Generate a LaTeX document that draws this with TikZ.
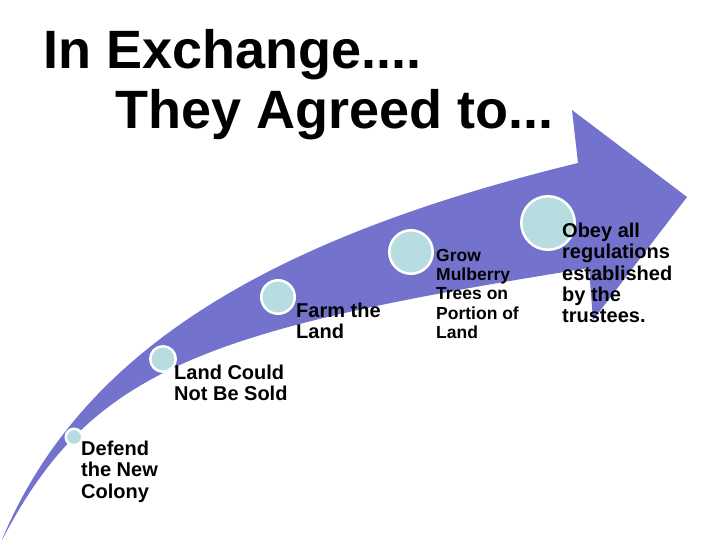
\documentclass[tikz,border=0pt]{standalone}
\usepackage{fontspec}
\setmainfont{Liberation Sans}
\definecolor{arrowblue}{RGB}{115,115,205}
\definecolor{dotfill}{RGB}{183,221,224}
\tikzset{dot/.style={circle,fill=dotfill,draw=white,line width=2.5pt,inner sep=0pt},
  lbl/.style={anchor=north west,inner sep=0pt,align=left,font=\bfseries\fontsize{20}{21.3}\selectfont},
  ttl/.style={anchor=base west,inner sep=0pt,font=\bfseries\fontsize{54}{60}\selectfont}}
\begin{document}
\begin{tikzpicture}[x=1pt,y=-1pt]
\useasboundingbox (0,0) rectangle (720,540);
\node[ttl] (title1) at (43,69) {In Exchange....};
\node[ttl] (title2) at (115,129) {They Agreed to...};
\fill[arrowblue] (1,542) .. controls (80,350) and (270,238) .. (578,163) -- (572,110) -- (687,197)
  -- (593,320) -- (589,268) .. controls (200,330) and (90,370) .. (1,542) -- cycle;
\node[dot,minimum size=16.5pt] (d1) at (74,437) {};
\node[dot,minimum size=25.5pt] (d2) at (163,359) {};
\node[dot,minimum size=33.5pt] (d3) at (278,297) {};
\node[dot,minimum size=43.5pt] (d4) at (411,252) {};
\node[dot,minimum size=53.5pt] (d5) at (548,223) {};
\node[lbl] (t1) at (81,441) {Defend\\the New\\Colony};
\node[lbl] (t2) at (174,365) {Land Could\\Not Be Sold};
\node[lbl] (t3) at (296,303) {Farm the\\Land};
\node[lbl,font=\bfseries\fontsize{17.5}{19.2}\selectfont] (t4) at (436,249) {Grow\\Mulberry\\Trees on\\Portion of\\Land};
\node[lbl] (t5) at (562,223) {Obey all\\regulations\\established\\by the\\trustees.};
\end{tikzpicture}
\end{document}
